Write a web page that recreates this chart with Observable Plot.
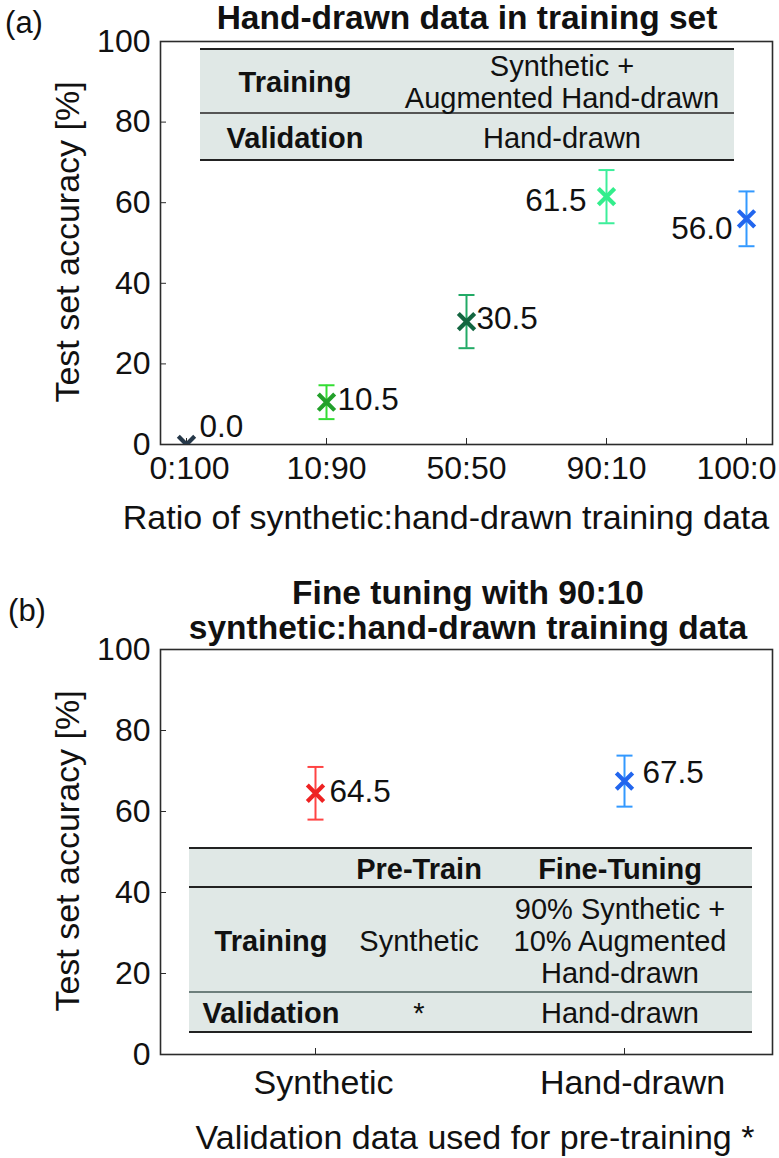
<!DOCTYPE html>
<html>
<head>
<meta charset="utf-8">
<script src="https://cdn.jsdelivr.net/npm/d3@7"></script>
<script src="https://cdn.jsdelivr.net/npm/@observablehq/plot@0.6"></script>
<style>
  html, body { margin: 0; padding: 0; background: #fff; }
  #root { position: relative; width: 779px; height: 1158px; overflow: hidden;
          font-family: "Liberation Sans", Arial, Helvetica, sans-serif; color: #111; }
  .abs { position: absolute; white-space: nowrap; line-height: 1; transform: translate(-50%, -50%); }
  .panel { position: absolute; left: 0; }
  .tbl-bg { position: absolute; background: #e0e8e6; }
  .tbl-line { position: absolute; }
  .cell { position: absolute; text-align: center; font-size: 29px; line-height: 32px; white-space: pre; transform: translate(-50%, -50%); }
  .b { font-weight: bold; }
</style>
</head>
<body>
<div id="root"></div>
<script>
// ---------- data ----------
const ratioLabels = ["0:100", "10:90", "50:50", "90:10", "100:0"];
const accuracyA = [0.0, 10.5, 30.5, 61.5, 56.0];
const errorA = [0, 4.2, 6.6, 6.6, 6.8];
const barColorsA = ["#2b3f4f", "#33dd33", "#22aa66", "#3cee9a", "#3399ff"];
const markerColorsA = ["#263849", "#22a02a", "#136640", "#33ee8c", "#2266ee"];

const validationSets = ["Synthetic", "Hand-drawn"];
const accuracyB = [64.5, 67.5];
const errorB = [6.5, 6.3];
const barColorsB = ["#ff4444", "#3399ff"];
const markerColorsB = ["#ee2222", "#2266ee"];

const yTicks = [0, 20, 40, 60, 80, 100];

const tableARows = [["Training", "Synthetic +\nAugmented Hand-drawn"], ["Validation", "Hand-drawn"]];
const tableBHeader = ["", "Pre-Train", "Fine-Tuning"];
const tableBRows = [["Training", "Synthetic", "90% Synthetic +\n10% Augmented\nHand-drawn"], ["Validation", "*", "Hand-drawn"]];

// ---------- helpers ----------
const root = document.getElementById("root");
function addText(txt, x, y, opts = {}) {
  const d = document.createElement("div");
  d.className = "abs";
  d.textContent = txt;
  d.style.left = x + "px";
  d.style.top = y + "px";
  d.style.fontSize = (opts.size || 32) + "px";
  if (opts.bold) d.style.fontWeight = "bold";
  if (opts.rotate) d.style.transform = "translate(-50%, -50%) rotate(-90deg)";
  root.appendChild(d);
  return d;
}

// horizontal cap symbol for error bars
const capSymbol = {
  draw(context, size) {
    const w = Math.sqrt(size / Math.PI);
    context.moveTo(-w, 0);
    context.lineTo(w, 0);
  }
};

function makePanel(data, opts) {
  const withErr = data.filter(d => d.hi > d.lo);
  const keys = data.map(d => d.k);
  const xLabelAxes = opts.xLabelGroups.map(g => Plot.axisX({
    ticks: g.keys, tickSize: 0, tickPadding: opts.xPad, fontSize: opts.xFont, dx: g.dx, label: null
  }));
  const marks = [
    Plot.frame({stroke: "#2b2b2b", strokeWidth: 1.6}),
    Plot.axisY({ticks: yTicks, tickSize: 0, tickPadding: 10, fontSize: 32, label: null}),
    Plot.axisY({ticks: yTicks, tickSize: 6, dx: 6, tickFormat: () => "", label: null, stroke: "#2b2b2b"}),
    ...xLabelAxes,
    Plot.axisX({ticks: keys, tickSize: 6, dy: -6, tickFormat: () => "", label: null, stroke: "#2b2b2b"}),
    Plot.ruleX(withErr, {x: "k", y1: "lo", y2: "hi", stroke: "bar", strokeWidth: 2}),
    Plot.dot(withErr, {x: "k", y: "lo", symbol: capSymbol, r: 8, stroke: "bar", strokeWidth: 2}),
    Plot.dot(withErr, {x: "k", y: "hi", symbol: capSymbol, r: 8, stroke: "bar", strokeWidth: 2}),
    Plot.dot(data, {x: "k", y: "v", symbol: "times", r: 7.5, stroke: "mk", strokeWidth: 4.2, clip: true}),
    ...data.map(d => {
      const s = opts.labelStyle[d.k];
      return Plot.text([d], {x: "k", y: "v", text: e => e.v.toFixed(1), dx: s.dx, dy: s.dy,
        textAnchor: s.anchor, fontSize: 31.5, fill: "#111"});
    })
  ];
  return Plot.plot({
    width: 779,
    height: opts.height,
    marginLeft: 160,
    marginRight: 7,
    marginTop: opts.marginTop,
    marginBottom: opts.marginBottom,
    x: {type: "point", domain: keys, padding: opts.padding, align: opts.align},
    y: {domain: [0, 100]},
    color: {type: "identity"},
    style: {fontFamily: "'Liberation Sans', Arial, Helvetica, sans-serif", fontSize: "32px", color: "#111", background: "transparent", overflow: "visible"},
    marks
  });
}

function drawTable(cfg) {
  const totalH = cfg.rowHeights.reduce((a, b) => a + b, 0);
  const bg = document.createElement("div");
  bg.className = "tbl-bg";
  Object.assign(bg.style, {left: cfg.left + "px", top: cfg.top + "px", width: cfg.width + "px", height: totalH + "px"});
  root.appendChild(bg);
  let y = cfg.top;
  const ys = [y];
  cfg.rowHeights.forEach(h => { y += h; ys.push(y); });
  ys.forEach((yy, i) => {
    const st = cfg.lineStyles[i];
    const l = document.createElement("div");
    l.className = "tbl-line";
    Object.assign(l.style, {left: cfg.left + "px", width: cfg.width + "px",
      top: (yy - st.w / 2) + "px", height: st.w + "px", background: st.c});
    root.appendChild(l);
  });
  cfg.rows.forEach((row, r) => {
    const cy = (ys[r] + ys[r + 1]) / 2;
    row.forEach((txt, c) => {
      if (!txt) return;
      const d = document.createElement("div");
      d.className = "cell" + (cfg.bold(r, c) ? " b" : "");
      d.textContent = txt;
      d.style.left = (cfg.left + cfg.colCenters[c]) + "px";
      d.style.top = (cy + 1) + "px";
      root.appendChild(d);
    });
  });
}

// ---------- panel (a) ----------
const dataA = ratioLabels.map((k, i) => ({k, v: accuracyA[i], lo: accuracyA[i] - errorA[i], hi: accuracyA[i] + errorA[i], bar: barColorsA[i], mk: markerColorsA[i]}));
const svgA = makePanel(dataA, {
  height: 500, marginTop: 11, marginBottom: 86, padding: 0.178, align: 0.5, xPad: 12, xFont: 32,
  xLabelGroups: [{keys: ratioLabels.slice(0, 1), dx: 3}, {keys: ratioLabels.slice(1, 4), dx: 0}, {keys: ratioLabels.slice(4), dx: -10}],
  labelStyle: {
    "0:100": {dx: 13, dy: -18, anchor: "start"},
    "10:90": {dx: 11, dy: -2, anchor: "start"},
    "50:50": {dx: 10, dy: -3, anchor: "start"},
    "90:10": {dx: -20, dy: 4, anchor: "end"},
    "100:0": {dx: -14, dy: 10, anchor: "end"}
  }
});
const wrapA = document.createElement("div");
wrapA.className = "panel"; wrapA.style.top = "30px";
wrapA.appendChild(svgA);
root.appendChild(wrapA);

// ---------- panel (b) ----------
const dataB = validationSets.map((k, i) => ({k, v: accuracyB[i], lo: accuracyB[i] - errorB[i], hi: accuracyB[i] + errorB[i], bar: barColorsB[i], mk: markerColorsB[i]}));
const svgB = makePanel(dataB, {
  height: 500, marginTop: 9, marginBottom: 86, padding: 0.49, align: 0.51, xPad: 15, xFont: 34,
  xLabelGroups: [{keys: validationSets, dx: 8}],
  labelStyle: {
    "Synthetic": {dx: 14, dy: -1, anchor: "start"},
    "Hand-drawn": {dx: 18, dy: -8, anchor: "start"}
  }
});
const wrapB = document.createElement("div");
wrapB.className = "panel"; wrapB.style.top = "640px";
wrapB.appendChild(svgB);
root.appendChild(wrapB);

// ---------- texts ----------
addText("(a)", 24, 22, {size: 31});
addText("Hand-drawn data in training set", 467, 18, {size: 33.5, bold: true});
addText("Test set accuracy [%]", 67, 242, {size: 34, rotate: true});
addText("Ratio of synthetic:hand-drawn training data", 446, 517, {size: 34});

addText("(b)", 27, 610, {size: 31});
addText("Fine tuning with 90:10", 468, 593, {size: 33.5, bold: true});
addText("synthetic:hand-drawn training data", 468, 628, {size: 33.5, bold: true});
addText("Test set accuracy [%]", 67, 851, {size: 34, rotate: true});
addText("Validation data used for pre-training *", 475, 1137, {size: 34});

// ---------- tables ----------
const dark = "#222", grey = "#555";
drawTable({
  left: 200, width: 534, top: 49, rowHeights: [64, 47],
  colCenters: [95, 362],
  rows: tableARows,
  bold: (r, c) => c === 0,
  lineStyles: [{w: 2.5, c: dark}, {w: 1.5, c: grey}, {w: 2.5, c: dark}]
});
drawTable({
  left: 189, width: 563, top: 848, rowHeights: [39, 105, 40],
  colCenters: [82, 230, 431],
  rows: [tableBHeader, ...tableBRows],
  bold: (r, c) => r === 0 || c === 0,
  lineStyles: [{w: 2.5, c: dark}, {w: 2.5, c: dark}, {w: 2, c: "#6d7f7c"}, {w: 2.5, c: dark}]
});
</script>
</body>
</html>
